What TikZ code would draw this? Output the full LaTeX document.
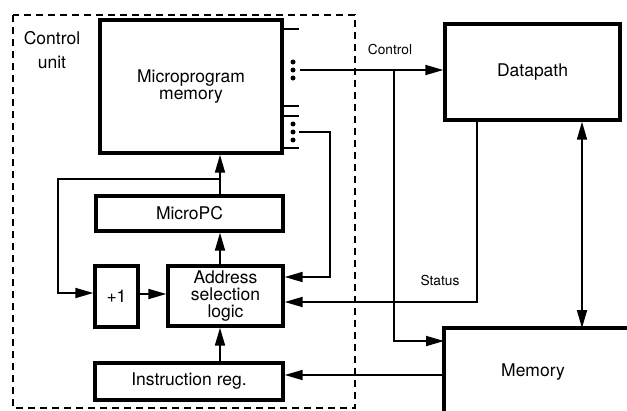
\documentclass[tikz,border=0pt]{standalone}
\usepackage{fontspec}
\setmainfont{TeX Gyre Heros}
\usetikzlibrary{arrows.meta}
\begin{document}
\begin{tikzpicture}[x=1pt,y=-1pt,
  blk/.style={draw, line width=3.4pt, inner sep=0pt, font=\fontsize{17.5}{17}\selectfont, align=center},
  conn/.style={line width=1.8pt},
  tip/.tip={Triangle[length=18pt,width=10pt]},
  arr/.style={conn, -tip},
  lbl/.style={font=\fontsize{13.7}{15}\selectfont, inner sep=0pt},
  dot/.style={circle, fill, inner sep=0pt, minimum size=5pt}]
\useasboundingbox (0,0) rectangle (627,410);
\fill[white] (0,0) rectangle (627,410);
% control unit dashed box
\draw[line width=2.2pt, dash pattern=on 7pt off 5pt] (13,15) rectangle (355,408);
\node[font=\fontsize{17.5}{23.5}\selectfont, align=center] (cu) at (52,50) {Control\\unit};
% blocks
\node[blk, minimum width=182pt, minimum height=133pt] (mpm) at (191,86.5) {Microprogram\\memory};
\node[blk, minimum width=187pt, minimum height=35pt] (upc) at (189.5,213.5) {MicroPC};
\node[blk, minimum width=43pt, minimum height=61pt] (inc) at (116.5,296.5) {+1};
\node[blk, minimum width=115pt, minimum height=60pt] (asl) at (225.5,296) {Address\\selection\\logic};
\node[blk, minimum width=188pt, minimum height=37pt] (ir) at (189,381.5) {Instruction reg.};
\node[blk, minimum width=175pt, minimum height=96pt] (dp) at (532.5,72) {Datapath};
\node[font=\fontsize{17.5}{17}\selectfont, inner sep=0pt] (mem) at (533,372) {Memory};
\draw[line width=3.4pt] (444,415) -- (444,328) -- (632,328);
\coordinate (memnw) at (444,328);
% microprogram memory output stubs
\foreach \yy in {29,106,116,148} \draw[conn] (282,\yy) -- (299,\yy);
\node[dot] (d1) at (293,62) {};
\node[dot] (d2) at (293,70) {};
\node[dot] (d3) at (293,78) {};
\node[dot] (e1) at (293,124) {};
\node[dot] (e2) at (293,132) {};
\node[dot] (e3) at (293,140) {};
\coordinate (cstart) at (300,70);
\coordinate (sstart) at (299,132);
% control line
\coordinate (cbr) at (394,70);
\draw[arr] (cstart) -- (dp.west |- cstart);
\draw[arr] (cbr) -- (394,341) -- (444,341);
\node[lbl] (clbl) at (390,50) {Control};
% second output group to ASL
\draw[arr] (sstart) -- (330,132) -- (330,277) -- (asl.east |- 0,277);
% status
\draw[arr] (dp.south -| 477,0) -- (477,302) -- (asl.east |- 0,302);
\node[lbl] (slbl) at (440,281) {Status};
% memory to IR
\draw[arr] (444,375) -- (ir.east |- 0,375);
% bidirectional datapath-memory
\draw[conn, tip-tip] (dp.south -| 582,0) -- (582,328);
% internal control unit arrows
\draw[arr] (upc.north -| 220,0) -- (mpm.south -| 220,0);
\draw[arr] (asl.north -| 220,0) -- (upc.south -| 220,0);
\draw[arr] (ir.north -| 220,0) -- (asl.south -| 220,0);
\draw[arr] (220,179) -- (58,179) -- (58,293) -- (inc.west |- 0,293);
\draw[arr] (inc.east |- 0,294) -- (asl.west |- 0,294);
\end{tikzpicture}
\end{document}
